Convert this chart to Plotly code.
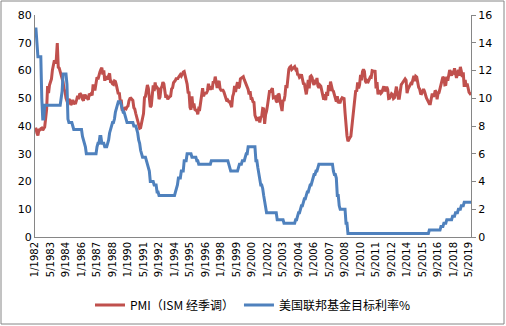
import plotly.graph_objects as go

# Monthly categories 1/1982 .. 7/2019
months = []
for y in range(1982, 2020):
    for m in range(1, 13):
        if y == 2019 and m > 7:
            break
        months.append(f"{m}/{y}")

tick_labels = ["1/1982", "5/1983", "9/1984", "1/1986", "5/1987", "9/1988", "1/1990",
               "5/1991", "9/1992", "1/1994", "5/1995", "9/1996", "1/1998", "5/1999",
               "9/2000", "1/2002", "5/2003", "9/2004", "1/2006", "5/2007", "9/2008",
               "1/2010", "5/2011", "9/2012", "1/2014", "5/2015", "9/2016", "1/2018",
               "5/2019"]

pmi = [
    38.8, 38.9, 37.5, 36.6, 38.6, 38.6, 39.0, 39.2, 38.5, 39.0, 39.6, 42.8,   # 1982
    46.0, 54.4, 51.9, 54.8, 56.1, 57.0, 60.2, 63.0, 63.7, 62.5, 64.1, 69.9,   # 1983
    61.2, 60.9, 59.5, 58.4, 56.5, 55.8, 53.2, 52.4, 50.0, 49.1, 48.0, 49.7,   # 1984
    49.2, 47.6, 48.2, 49.4, 47.9, 48.3, 48.3, 49.5, 50.9, 49.7, 51.4, 51.5,   # 1985
    51.0, 49.7, 49.1, 51.4, 49.9, 50.5, 49.8, 49.5, 51.6, 51.3, 51.7, 51.0,   # 1986
    55.0, 53.2, 53.2, 56.6, 57.6, 56.8, 58.6, 59.5, 60.4, 61.0, 58.5, 60.0,   # 1987
    56.3, 57.9, 57.2, 56.8, 58.1, 59.0, 55.6, 55.9, 55.2, 55.0, 56.2, 56.0,   # 1988
    54.7, 53.4, 51.5, 52.1, 48.8, 49.5, 45.5, 46.5, 46.0, 46.4, 46.2, 46.9,   # 1989
    47.2, 49.1, 49.9, 50.0, 49.5, 49.2, 46.6, 46.1, 44.5, 43.2, 41.3, 40.8,   # 1990
    39.2, 39.4, 40.7, 42.8, 44.5, 50.3, 50.6, 52.9, 54.8, 53.6, 49.9, 46.8,   # 1991
    47.3, 52.7, 54.6, 52.6, 55.7, 53.3, 53.9, 53.4, 49.7, 50.4, 53.6, 54.2,   # 1992
    55.8, 55.2, 53.4, 50.2, 51.2, 49.6, 50.2, 50.7, 50.8, 53.4, 53.8, 55.6,   # 1993
    56.0, 56.5, 57.4, 56.8, 57.5, 58.2, 58.5, 58.0, 59.0, 59.4, 59.6, 57.8,   # 1994
    57.4, 55.1, 52.1, 52.0, 46.7, 45.9, 50.7, 46.7, 48.1, 46.0, 45.7, 45.7,   # 1995
    44.2, 46.3, 46.1, 48.6, 49.2, 53.6, 50.7, 51.7, 51.8, 51.9, 52.7, 55.2,   # 1996
    53.8, 53.1, 53.8, 53.7, 56.1, 55.5, 57.8, 56.1, 53.7, 55.6, 56.2, 53.5,   # 1997
    52.9, 52.9, 52.9, 52.2, 51.2, 49.6, 48.9, 49.3, 48.7, 48.7, 47.4, 46.8,   # 1998
    50.6, 51.7, 54.4, 52.3, 54.3, 55.8, 53.6, 54.2, 57.0, 57.2, 57.7, 57.8,   # 1999
    56.7, 55.8, 54.9, 54.7, 53.2, 51.4, 52.5, 49.9, 49.9, 48.7, 48.5, 43.9,   # 2000
    42.3, 41.9, 43.1, 42.7, 41.3, 43.2, 43.5, 46.3, 46.2, 40.8, 44.1, 45.3,   # 2001
    47.5, 50.7, 52.4, 52.4, 53.1, 53.6, 50.2, 50.3, 50.5, 49.0, 48.5, 51.6,   # 2002
    51.3, 48.8, 46.3, 45.4, 49.4, 49.0, 51.0, 54.7, 53.7, 57.0, 60.5, 61.2,   # 2003
    61.5, 60.4, 60.8, 61.2, 61.4, 60.5, 60.9, 58.6, 58.5, 57.5, 57.8, 58.6,   # 2004
    56.4, 55.3, 55.2, 52.3, 51.4, 53.8, 56.6, 53.6, 57.8, 58.1, 57.5, 55.6,   # 2005
    54.8, 56.7, 55.2, 57.3, 54.4, 53.8, 54.7, 54.3, 52.9, 51.2, 49.5, 51.4,   # 2006
    49.3, 52.3, 50.9, 54.7, 52.6, 56.0, 53.8, 52.9, 52.5, 51.2, 50.4, 48.8,   # 2007
    50.7, 48.3, 48.6, 48.6, 49.6, 50.2, 50.0, 49.9, 44.8, 38.9, 36.5, 34.5,   # 2008
    35.5, 35.8, 36.3, 40.1, 42.8, 45.0, 49.2, 52.8, 52.4, 55.7, 53.6, 54.9,   # 2009
    58.4, 56.5, 59.6, 60.4, 59.7, 56.2, 55.5, 56.3, 56.0, 56.9, 57.6, 57.5,   # 2010
    59.9, 59.8, 59.7, 59.7, 53.5, 55.8, 51.4, 52.5, 52.5, 51.8, 52.2, 53.4,   # 2011
    54.3, 52.5, 53.3, 54.1, 53.2, 49.9, 50.0, 50.7, 51.6, 51.3, 49.9, 50.2,   # 2012
    53.3, 54.2, 51.9, 50.0, 50.0, 52.5, 54.9, 55.4, 56.0, 56.6, 57.0, 56.5,   # 2013
    51.8, 53.3, 53.9, 54.7, 55.4, 55.3, 56.4, 58.1, 56.1, 57.9, 57.6, 55.1,   # 2014
    53.9, 53.3, 51.7, 51.6, 52.5, 53.3, 52.5, 51.0, 50.1, 49.4, 48.4, 48.0,   # 2015
    48.0, 49.7, 51.7, 50.6, 51.0, 52.8, 52.3, 49.6, 51.7, 52.0, 53.5, 54.5,   # 2016
    56.0, 57.7, 57.2, 54.8, 54.9, 57.8, 56.3, 58.8, 60.2, 58.7, 58.2, 59.3,   # 2017
    59.1, 60.8, 59.3, 57.3, 58.7, 60.2, 58.1, 61.3, 59.8, 57.7, 59.3, 54.1,   # 2018
    56.6, 54.2, 55.3, 52.8, 52.1, 51.7, 51.2,                                 # 2019
]

fed_rate = [
    15.0, 15.0, 14.0, 13.0, 13.0, 13.0, 13.0, 10.0, 8.5, 8.5, 9.5, 9.5,       # 1982
    9.5, 9.5, 9.5, 9.5, 9.5, 9.5, 9.5, 9.5, 9.5, 9.5, 9.5, 9.5,               # 1983
    9.5, 9.5, 9.5, 10.0, 10.5, 11.75, 11.75, 11.75, 11.75, 11.0, 8.5, 8.25,   # 1984
    8.25, 8.25, 8.25, 8.0, 7.75, 7.75, 7.75, 7.75, 7.75, 7.75, 7.75, 7.75,    # 1985
    7.75, 7.25, 7.0, 6.75, 6.5, 6.0, 6.0, 6.0, 6.0, 6.0, 6.0, 6.0,            # 1986
    6.0, 6.0, 6.0, 6.0, 6.5, 6.75, 6.75, 7.25, 7.25, 6.75, 6.75, 6.75,        # 1987
    6.5, 6.5, 6.5, 6.75, 7.0, 7.5, 7.75, 8.0, 8.25, 8.25, 8.5, 9.0,           # 1988
    9.25, 9.5, 9.75, 9.75, 9.75, 9.5, 9.25, 9.0, 9.0, 8.75, 8.5, 8.25,        # 1989
    8.25, 8.25, 8.25, 8.25, 8.25, 8.25, 8.0, 8.0, 8.0, 7.75, 7.5, 7.0,        # 1990
    6.75, 6.25, 6.0, 5.75, 5.75, 5.75, 5.75, 5.5, 5.25, 5.0, 4.75, 4.0,       # 1991
    4.0, 4.0, 4.0, 3.75, 3.75, 3.75, 3.25, 3.25, 3.0, 3.0, 3.0, 3.0,          # 1992
    3.0, 3.0, 3.0, 3.0, 3.0, 3.0, 3.0, 3.0, 3.0, 3.0, 3.0, 3.0,               # 1993
    3.0, 3.25, 3.5, 3.75, 4.25, 4.25, 4.25, 4.75, 4.75, 4.75, 5.5, 5.5,       # 1994
    5.5, 6.0, 6.0, 6.0, 6.0, 6.0, 5.75, 5.75, 5.75, 5.75, 5.75, 5.5,          # 1995
    5.5, 5.25, 5.25, 5.25, 5.25, 5.25, 5.25, 5.25, 5.25, 5.25, 5.25, 5.25,    # 1996
    5.25, 5.25, 5.5, 5.5, 5.5, 5.5, 5.5, 5.5, 5.5, 5.5, 5.5, 5.5,             # 1997
    5.5, 5.5, 5.5, 5.5, 5.5, 5.5, 5.5, 5.5, 5.25, 5.0, 4.75, 4.75,            # 1998
    4.75, 4.75, 4.75, 4.75, 4.75, 4.75, 5.0, 5.25, 5.25, 5.25, 5.5, 5.5,      # 1999
    5.5, 5.75, 6.0, 6.0, 6.5, 6.5, 6.5, 6.5, 6.5, 6.5, 6.5, 6.5,              # 2000
    5.5, 5.5, 5.0, 4.5, 4.0, 3.75, 3.75, 3.5, 3.0, 2.5, 2.0, 1.75,            # 2001
    1.75, 1.75, 1.75, 1.75, 1.75, 1.75, 1.75, 1.75, 1.75, 1.75, 1.25, 1.25,   # 2002
    1.25, 1.25, 1.25, 1.25, 1.25, 1.0, 1.0, 1.0, 1.0, 1.0, 1.0, 1.0,          # 2003
    1.0, 1.0, 1.0, 1.0, 1.0, 1.25, 1.25, 1.5, 1.75, 1.75, 2.0, 2.25,          # 2004
    2.25, 2.5, 2.75, 2.75, 3.0, 3.25, 3.25, 3.5, 3.75, 3.75, 4.0, 4.25,       # 2005
    4.5, 4.5, 4.75, 4.75, 5.0, 5.25, 5.25, 5.25, 5.25, 5.25, 5.25, 5.25,      # 2006
    5.25, 5.25, 5.25, 5.25, 5.25, 5.25, 5.25, 5.25, 4.75, 4.5, 4.5, 4.25,     # 2007
    3.0, 3.0, 2.25, 2.0, 2.0, 2.0, 2.0, 2.0, 2.0, 1.0, 1.0, 0.25,             # 2008
    0.25, 0.25, 0.25, 0.25, 0.25, 0.25, 0.25, 0.25, 0.25, 0.25, 0.25, 0.25,   # 2009
    0.25, 0.25, 0.25, 0.25, 0.25, 0.25, 0.25, 0.25, 0.25, 0.25, 0.25, 0.25,   # 2010
    0.25, 0.25, 0.25, 0.25, 0.25, 0.25, 0.25, 0.25, 0.25, 0.25, 0.25, 0.25,   # 2011
    0.25, 0.25, 0.25, 0.25, 0.25, 0.25, 0.25, 0.25, 0.25, 0.25, 0.25, 0.25,   # 2012
    0.25, 0.25, 0.25, 0.25, 0.25, 0.25, 0.25, 0.25, 0.25, 0.25, 0.25, 0.25,   # 2013
    0.25, 0.25, 0.25, 0.25, 0.25, 0.25, 0.25, 0.25, 0.25, 0.25, 0.25, 0.25,   # 2014
    0.25, 0.25, 0.25, 0.25, 0.25, 0.25, 0.25, 0.25, 0.25, 0.25, 0.25, 0.5,    # 2015
    0.5, 0.5, 0.5, 0.5, 0.5, 0.5, 0.5, 0.5, 0.5, 0.5, 0.5, 0.75,              # 2016
    0.75, 0.75, 1.0, 1.0, 1.0, 1.25, 1.25, 1.25, 1.25, 1.25, 1.25, 1.5,       # 2017
    1.5, 1.5, 1.75, 1.75, 1.75, 2.0, 2.0, 2.0, 2.25, 2.25, 2.25, 2.5,         # 2018
    2.5, 2.5, 2.5, 2.5, 2.5, 2.5, 2.5,                                        # 2019
]

RED = "#C0504D"
BLUE = "#4F81BD"
AXIS = "#868686"
TXT = "#000000"

fig = go.Figure()
fig.add_trace(go.Scatter(x=months, y=pmi, name="PMI（ISM 经季调）", mode="lines",
                         line=dict(color=RED, width=3), yaxis="y"))
fig.add_trace(go.Scatter(x=months, y=fed_rate, name="美国联邦基金目标利率%", mode="lines",
                         line=dict(color=BLUE, width=3), yaxis="y2"))

L, R, T, B = 35, 35, 15, 89
W, H = 506, 326
pw, ph = W - L - R, H - T - B

fig.update_layout(
    width=W, height=H,
    margin=dict(l=L, r=R, t=T, b=B, autoexpand=False),
    paper_bgcolor="white", plot_bgcolor="white",
    font=dict(family="DejaVu Sans", size=10, color=TXT),
    showlegend=True,
    legend=dict(orientation="h", x=0.5, xanchor="center", xref="container",
                y=1 - 305 / H, yanchor="middle", yref="container",
                font=dict(family="Noto Sans CJK SC", size=12, color=TXT),
                itemwidth=30, traceorder="normal"),
    xaxis=dict(type="category", range=[0, len(months) - 1],
               tickmode="array", tickvals=tick_labels, ticktext=tick_labels,
               tickangle=-90, showgrid=False, zeroline=False, automargin=False,
               showline=True, linecolor=AXIS, linewidth=1, ticks="",
               tickfont=dict(family="DejaVu Sans", size=10)),
    yaxis=dict(range=[0, 80], dtick=10, showgrid=False, zeroline=False, automargin=False,
               showline=True, linecolor=AXIS, linewidth=1, ticks="",
               tickfont=dict(family="DejaVu Sans", size=11)),
    yaxis2=dict(range=[0, 16], dtick=2, overlaying="y", side="right", automargin=False,
                showgrid=False, zeroline=False, showline=True, linecolor=AXIS,
                linewidth=1, ticks="outside", ticklen=4, tickcolor=AXIS,
                tickfont=dict(family="DejaVu Sans", size=11)),
)

# chart-area border
fig.add_shape(type="rect", xref="paper", yref="paper",
              x0=(1 - L) / pw, x1=(W - 2 - L) / pw,
              y0=-(B - 2) / ph, y1=(ph + T - 1) / ph,
              line=dict(color=AXIS, width=1), layer="below")

fig.write_html("out.html")
